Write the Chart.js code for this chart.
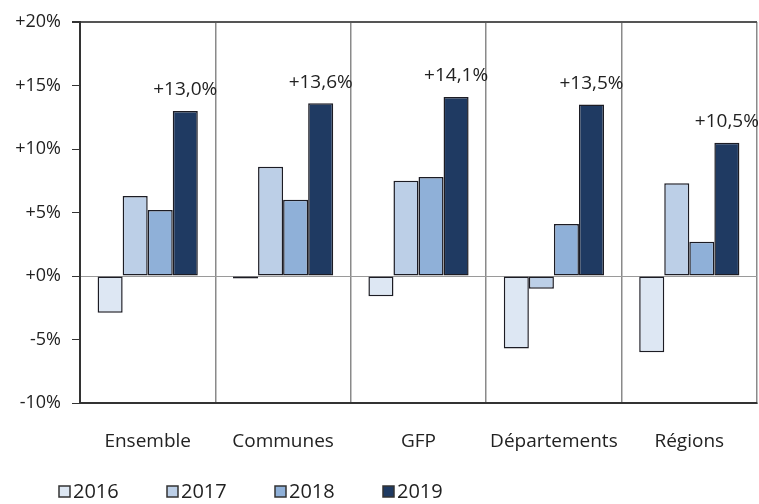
<!DOCTYPE html>
<html>
<head>
<meta charset="utf-8">
<script src="https://cdn.jsdelivr.net/npm/chart.js@4.4.1/dist/chart.umd.min.js"></script>
<style>
  html, body { margin: 0; padding: 0; background: #fff; }
  #wrap { width: 759px; height: 504px; position: relative; }
</style>
</head>
<body>
<div id="wrap"><canvas id="evolChart"></canvas></div>
<script>
// Évolution annuelle par catégorie de collectivités
const categories = ['Ensemble', 'Communes', 'GFP', 'Départements', 'Régions'];
const years = ['2016', '2017', '2018', '2019'];
const v2016 = [-2.9, -0.2, -1.6, -5.7, -6.0];
const v2017 = [6.3, 8.6, 7.5, -1.0, 7.3];
const v2018 = [5.2, 6.0, 7.8, 4.1, 2.7];
const v2019 = [13.0, 13.6, 14.1, 13.5, 10.5];
const yTicks = [-10, -5, 0, 5, 10, 15, 20];

const FONT = '"Open Sans", "Liberation Sans", sans-serif';
const fills = ['#dde7f3', '#bccfe7', '#8fb0d8', '#1f3a62'];
const series = [v2016, v2017, v2018, v2019];

const fmtPct = v => (v >= 0 ? '+' : '') + v.toFixed(1).replace('.', ',') + '%';

// value labels above the last year's bars
const lastYearLabels = {
    id: 'lastYearLabels',
    afterDatasetsDraw(chart) {
        const ctx = chart.ctx;
        const idx = chart.data.datasets.length - 1;
        const meta = chart.getDatasetMeta(idx);
        ctx.save();
        ctx.font = '19px ' + FONT;
        ctx.fillStyle = '#222';
        ctx.textAlign = 'center';
        ctx.textBaseline = 'middle';
        meta.data.forEach((bar, i) => {
            ctx.fillText(fmtPct(chart.data.datasets[idx].data[i]), bar.x, bar.y - 21);
        });
        ctx.restore();
    }
};

// simple square legend along the bottom
const squareLegend = {
    id: 'squareLegend',
    afterDraw(chart) {
        const ctx = chart.ctx;
        ctx.save();
        ctx.font = '20px ' + FONT;
        ctx.textBaseline = 'middle';
        chart.data.datasets.forEach((ds, i) => {
            const x = 59 + i * 108, y = 491;
            ctx.fillStyle = ds.backgroundColor;
            ctx.fillRect(x, y - 5, 11, 11);
            ctx.strokeStyle = '#333';
            ctx.lineWidth = 1.5;
            ctx.strokeRect(x, y - 5, 11, 11);
            ctx.fillStyle = '#222';
            ctx.fillText(ds.label, x + 14, y + 1);
        });
        ctx.restore();
    }
};

new Chart(document.getElementById('evolChart').getContext('2d'), {
    type: 'bar',
    data: {
        labels: categories,
        datasets: years.map((y, i) => ({
            label: y,
            data: series[i],
            backgroundColor: fills[i],
            borderColor: '#1c1c24',
            borderWidth: 1.5,
            borderSkipped: false,
            categoryPercentage: 0.74,
            barPercentage: 1.0,
        })),
    },
    options: {
        responsive: true,
        maintainAspectRatio: false,
        animation: false,
        layout: { padding: { top: 22, right: 2, left: 0, bottom: 51 } },
        plugins: {
            legend: { display: false },
            tooltip: { enabled: false },
        },
        scales: {
            x: {
                grid: { color: '#8a8a8a', lineWidth: 1.5, tickLength: 0, offset: true },
                border: { color: '#333', width: 2 },
                ticks: { font: { size: 19, family: FONT }, color: '#222', padding: 27 },
                afterFit: s => { s.height = 50; },
            },
            y: {
                min: -10,
                max: 20,
                afterBuildTicks: s => { s.ticks = yTicks.map(v => ({ value: v })); },
                grid: {
                    color: c => c.tick.value === 0 ? '#9a9a9a' : (c.tick.value === 20 ? '#555' : 'transparent'),
                    lineWidth: c => c.tick.value === 20 ? 2 : 1,
                    tickColor: '#333',
                    tickLength: 8,
                },
                border: { color: '#333', width: 2 },
                ticks: {
                    font: { size: 18, family: FONT },
                    color: '#222',
                    padding: 11,
                    callback: v => (v >= 0 ? '+' : '') + v + '%',
                },
                afterFit: s => { s.width = 80; },
            },
        },
    },
    plugins: [lastYearLabels, squareLegend],
});
</script>
</body>
</html>
